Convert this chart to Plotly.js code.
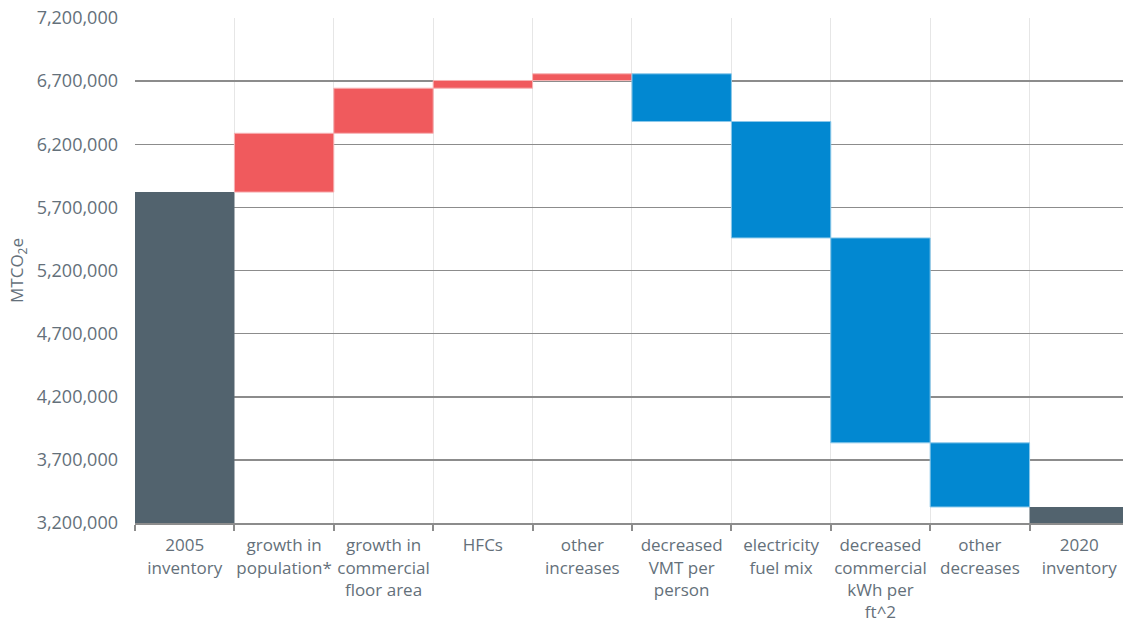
<!DOCTYPE html>
<html>
<head>
<meta charset="utf-8">
<script src="https://cdn.plot.ly/plotly-3.0.1.min.js"></script>
<style>html,body{margin:0;padding:0;background:#fff;}#chart{width:1123px;height:623px;}</style>
</head>
<body>
<div id="chart"></div>
<script>
const categories = [
  "2005<br>inventory",
  "growth in<br>population*",
  "growth in<br>commercial<br>floor area",
  "HFCs",
  "other<br>increases",
  "decreased<br>VMT per<br>person",
  "electricity<br>fuel mix",
  "decreased<br>commercial<br>kWh per<br>ft^2",
  "other<br>decreases",
  "2020<br>inventory"
];
const measures = ["absolute","relative","relative","relative","relative","relative","relative","relative","relative","total"];
const changes = [5821000, 466000, 357000, 61000, 53000, -378000, -922000, -1623000, -508000, 0];
const yTicks = [3200000, 3700000, 4200000, 4700000, 5200000, 5700000, 6200000, 6700000, 7200000];

const textColor = "#64707a";
const trace = {
  type: "waterfall",
  x: categories,
  y: changes,
  measure: measures,
  width: 1,
  connector: {visible: false},
  increasing: {marker: {color: "#f05a5d", line: {color: "#f7b3b4", width: 1}}},
  decreasing: {marker: {color: "#0288d1", line: {color: "#8cc9ea", width: 1}}},
  totals: {marker: {color: "#52636e", line: {color: "#52636e", width: 0}}},
  hoverinfo: "x+y"
};

const layout = {
  width: 1123, height: 623,
  margin: {l: 135, r: 0, t: 18, b: 100},
  paper_bgcolor: "#ffffff", plot_bgcolor: "#ffffff",
  showlegend: false,
  bargap: 0,
  font: {family: "Open Sans, sans-serif", size: 17, color: textColor},
  xaxis: {
    type: "category",
    range: [-0.5, 9.44],
    tickson: "boundaries",
    ticks: "outside", ticklen: 6, tickwidth: 2, tickcolor: "#8c8c8c",
    showgrid: true, gridcolor: "#e6e6e6", gridwidth: 1,
    showline: true, linecolor: "#8c8c8c", linewidth: 2,
    ticklabelstandoff: 6,
    tickfont: {size: 17, color: textColor},
    tickangle: 0,
    fixedrange: true
  },
  yaxis: {
    range: [3200000, 7200000],
    tickvals: yTicks,
    ticktext: yTicks.map(v => v.toLocaleString("en-US")),
    showgrid: true, gridcolor: "#8c8c8c", gridwidth: 1.5,
    zeroline: false, showline: false, ticks: "",
    ticklabelstandoff: 16,
    tickfont: {size: 18, color: textColor},
    title: {text: "MTCO<sub>2</sub>e", font: {size: 17, color: textColor}, standoff: 8},
    fixedrange: true
  }
};

Plotly.newPlot("chart", [trace], layout, {displayModeBar: false, staticPlot: true});
</script>
</body>
</html>
